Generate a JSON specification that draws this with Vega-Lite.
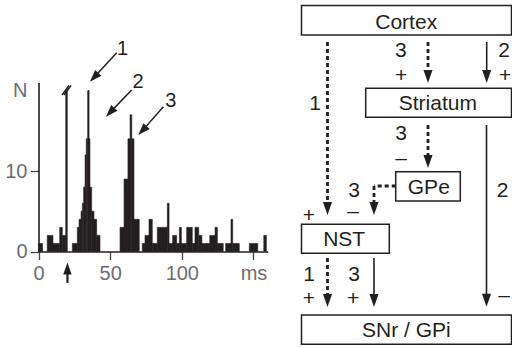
{
  "$schema": "https://vega.github.io/schema/vega-lite/v6.json",
  "width": 512,
  "height": 348,
  "autosize": "none",
  "padding": 0,
  "config": {"view": {"stroke": null}, "font": "Liberation Sans"},
  "datasets": {
    "bins": [
      {"t0": 0, "t1": 2.8, "n": 1},
      {"t0": 6.1, "t1": 10.1, "n": 2},
      {"t0": 10.1, "t1": 14.8, "n": 1},
      {"t0": 14.8, "t1": 16.6, "n": 3},
      {"t0": 16.6, "t1": 19, "n": 2},
      {"t0": 19, "t1": 20.1, "n": 20},
      {"t0": 23.6, "t1": 27.1, "n": 1},
      {"t0": 27.1, "t1": 28.3, "n": 3},
      {"t0": 28.3, "t1": 29.7, "n": 4},
      {"t0": 29.7, "t1": 30.6, "n": 5},
      {"t0": 30.6, "t1": 31.5, "n": 6},
      {"t0": 31.5, "t1": 32.5, "n": 8},
      {"t0": 32.5, "t1": 33.3, "n": 12},
      {"t0": 33.3, "t1": 34.3, "n": 14},
      {"t0": 34.3, "t1": 35.3, "n": 20},
      {"t0": 35.3, "t1": 35.9, "n": 14},
      {"t0": 35.9, "t1": 37.1, "n": 8},
      {"t0": 37.1, "t1": 38.7, "n": 5},
      {"t0": 38.7, "t1": 40.6, "n": 4},
      {"t0": 40.6, "t1": 42.9, "n": 2},
      {"t0": 56.9, "t1": 59.7, "n": 3},
      {"t0": 59.7, "t1": 62.4, "n": 9},
      {"t0": 62.4, "t1": 63.9, "n": 14},
      {"t0": 63.9, "t1": 65.1, "n": 17},
      {"t0": 65.1, "t1": 66.6, "n": 14},
      {"t0": 66.6, "t1": 70.3, "n": 4},
      {"t0": 72.4, "t1": 74.3, "n": 1},
      {"t0": 74.3, "t1": 77.1, "n": 2},
      {"t0": 77.1, "t1": 79.4, "n": 4},
      {"t0": 79.4, "t1": 82.9, "n": 1},
      {"t0": 82.9, "t1": 89.9, "n": 3},
      {"t0": 89.9, "t1": 91.1, "n": 6},
      {"t0": 91.1, "t1": 93.6, "n": 1},
      {"t0": 93.6, "t1": 96.4, "n": 2},
      {"t0": 96.4, "t1": 98.3, "n": 1},
      {"t0": 98.3, "t1": 99.7, "n": 3},
      {"t0": 99.7, "t1": 103.4, "n": 1},
      {"t0": 103.4, "t1": 107.3, "n": 3},
      {"t0": 107.3, "t1": 109.2, "n": 1},
      {"t0": 109.2, "t1": 111.8, "n": 3},
      {"t0": 111.8, "t1": 114, "n": 2},
      {"t0": 114, "t1": 119.5, "n": 1},
      {"t0": 119.5, "t1": 123.2, "n": 2},
      {"t0": 123.2, "t1": 124.8, "n": 3},
      {"t0": 124.8, "t1": 128.9, "n": 1},
      {"t0": 130.6, "t1": 134.3, "n": 1},
      {"t0": 134.3, "t1": 135.5, "n": 4},
      {"t0": 135.5, "t1": 140.1, "n": 1},
      {"t0": 147.1, "t1": 153, "n": 1},
      {"t0": 157.2, "t1": 159, "n": 2}
    ],
    "hlines": [
      {"x": 54.6, "y": 24.7, "x2": 38.8, "y2": 21.64},
      {"x": 65.0, "y": 20.06, "x2": 50.0, "y2": 17.29},
      {"x": 87.1, "y": 17.99, "x2": 72.5, "y2": 15.02},
      {"x": 16.4, "y": 19.44, "x2": 21.3, "y2": 20.62},
      {"x": 17.8, "y": 19.44, "x2": 22.7, "y2": 20.62}
    ],
    "hstim": [
      {"x": 20.2, "y": -3.9, "x2": 20.2, "y2": -2.4}
    ],
    "hheads": [
      {"x": 38.8, "y": 21.64},
      {"x": 50.0, "y": 17.29},
      {"x": 72.5, "y": 15.02}
    ],
    "hup": [{"x": 20.2, "y": -2.1}],
    "hlabels": [
      {"x": 58.6, "y": 24.41, "t": "1"},
      {"x": 69.4, "y": 20.27, "t": "2"},
      {"x": 92.3, "y": 17.91, "t": "3"}
    ],
    "boxes": [
      {"name": "Cortex", "x0": 0.5, "x1": 210.5, "y0": 0.5, "y1": 30, "lx": 105.2, "ly": 24},
      {"name": "Striatum", "x0": 64.7, "x1": 210.5, "y0": 83.3, "y1": 112.3, "lx": 136.8, "ly": 105},
      {"name": "GPe", "x0": 94.7, "x1": 159.3, "y0": 166.7, "y1": 196, "lx": 127.8, "ly": 188.5},
      {"name": "NST", "x0": 0.5, "x1": 88.3, "y0": 219.3, "y1": 248.3, "lx": 43.2, "ly": 241},
      {"name": "SNr / GPi", "x0": 0.5, "x1": 210.5, "y0": 310, "y1": 339.3, "lx": 105.3, "ly": 332}
    ],
    "signs": [
      {"t": "3", "x": 99.8, "y": 51.7},
      {"t": "+", "x": 100, "y": 77},
      {"t": "2", "x": 203.2, "y": 51.7},
      {"t": "+", "x": 204, "y": 77},
      {"t": "1", "x": 14, "y": 105},
      {"t": "3", "x": 100, "y": 135},
      {"t": "–", "x": 100, "y": 159.7},
      {"t": "3", "x": 53.2, "y": 192.3},
      {"t": "–", "x": 52, "y": 213},
      {"t": "+", "x": 7.8, "y": 217},
      {"t": "2", "x": 201.5, "y": 192.3},
      {"t": "1", "x": 8, "y": 275.7},
      {"t": "3", "x": 53, "y": 275.7},
      {"t": "+", "x": 7.8, "y": 299.7},
      {"t": "+", "x": 52, "y": 299.7},
      {"t": "–", "x": 203.2, "y": 297}
    ],
    "dashed": [
      {"x": 26.5, "y": 37, "x2": 26.5, "y2": 204},
      {"x": 127, "y": 37, "x2": 127, "y2": 72},
      {"x": 127, "y": 120, "x2": 127, "y2": 157},
      {"x": 94.7, "y": 181, "x2": 73, "y2": 181},
      {"x": 73, "y": 181, "x2": 73, "y2": 204},
      {"x": 26.5, "y": 253, "x2": 26.5, "y2": 296}
    ],
    "solid": [
      {"x": 185.7, "y": 37, "x2": 185.7, "y2": 72},
      {"x": 185.5, "y": 120, "x2": 185.5, "y2": 296},
      {"x": 73, "y": 253, "x2": 73, "y2": 296}
    ],
    "heads": [
      {"x": 26.5, "y": 203.5},
      {"x": 127, "y": 71.5},
      {"x": 185.7, "y": 71.5},
      {"x": 127, "y": 156.5},
      {"x": 185.5, "y": 295.2},
      {"x": 73, "y": 203.5},
      {"x": 26.5, "y": 295.5},
      {"x": 73, "y": 295.5}
    ]
  },
  "resolve": {"scale": {"x": "independent", "y": "independent"}},
  "layer": [
    {
      "layer": [
        {
          "data": {"name": "bins"},
          "mark": {"type": "rect", "color": "#231f20", "stroke": "#231f20", "strokeWidth": 0.6},
          "encoding": {
            "x": {
              "field": "t0", "type": "quantitative",
              "scale": {"domain": [0, 160], "range": [38.5, 267.8], "nice": false, "zero": false},
              "axis": {
                "title": null, "values": [0, 50, 100, 150],
                "labelExpr": "datum.value == 150 ? 'ms' : datum.label",
                "offset": -96.5, "grid": false,
                "domainColor": "#231f20", "domainWidth": 1.6,
                "tickColor": "#444444", "tickWidth": 1.3, "tickSize": 8,
                "labelFont": "Liberation Sans", "labelFontSize": 20, "labelColor": "#6d6e71",
                "labelPadding": 4, "labelFlush": false, "labelOverlap": false
              }
            },
            "x2": {"field": "t1"},
            "y": {
              "field": "n", "type": "quantitative",
              "scale": {"domain": [0, 21], "range": [251.5, 82.5], "nice": false, "zero": false},
              "axis": {
                "title": null, "values": [0, 10, 20],
                "labelExpr": "datum.value == 20 ? 'N' : datum.label",
                "tickOpacity": {"condition": {"test": "datum.value == 20", "value": 0}, "value": 1},
                "offset": -38.5, "grid": false,
                "domainColor": "#231f20", "domainWidth": 1.6,
                "tickColor": "#444444", "tickWidth": 1.3, "tickSize": 8,
                "labelFont": "Liberation Sans", "labelFontSize": 20, "labelColor": "#6d6e71",
                "labelPadding": 3.5, "labelFlush": false, "labelOverlap": false
              }
            },
            "y2": {"datum": 0}
          }
        },
        {
          "data": {"name": "hlines"},
          "mark": {"type": "rule", "color": "#231f20", "strokeWidth": 1.5},
          "encoding": {
            "x": {"field": "x", "type": "quantitative", "scale": {"domain": [0, 160], "range": [38.5, 267.8], "nice": false, "zero": false}},
            "x2": {"field": "x2"},
            "y": {"field": "y", "type": "quantitative", "scale": {"domain": [0, 21], "range": [251.5, 82.5], "nice": false, "zero": false}},
            "y2": {"field": "y2"}
          }
        },
        {
          "data": {"name": "hstim"},
          "mark": {"type": "rule", "color": "#231f20", "strokeWidth": 2.2},
          "encoding": {
            "x": {"field": "x", "type": "quantitative", "scale": {"domain": [0, 160], "range": [38.5, 267.8], "nice": false, "zero": false}},
            "x2": {"field": "x2"},
            "y": {"field": "y", "type": "quantitative", "scale": {"domain": [0, 21], "range": [251.5, 82.5], "nice": false, "zero": false}},
            "y2": {"field": "y2"}
          }
        },
        {
          "data": {"name": "hheads"},
          "mark": {"type": "point", "shape": "M-0.7,-1L0.7,-1L0,1Z", "filled": true, "size": 150, "angle": 43, "color": "#231f20", "opacity": 1, "strokeWidth": 0},
          "encoding": {
            "x": {"field": "x", "type": "quantitative", "scale": {"domain": [0, 160], "range": [38.5, 267.8], "nice": false, "zero": false}},
            "y": {"field": "y", "type": "quantitative", "scale": {"domain": [0, 21], "range": [251.5, 82.5], "nice": false, "zero": false}}
          }
        },
        {
          "data": {"name": "hup"},
          "mark": {"type": "point", "shape": "M-0.7,-1L0.7,-1L0,1Z", "filled": true, "size": 144, "angle": 180, "color": "#231f20", "opacity": 1, "strokeWidth": 0},
          "encoding": {
            "x": {"field": "x", "type": "quantitative", "scale": {"domain": [0, 160], "range": [38.5, 267.8], "nice": false, "zero": false}},
            "y": {"field": "y", "type": "quantitative", "scale": {"domain": [0, 21], "range": [251.5, 82.5], "nice": false, "zero": false}}
          }
        },
        {
          "data": {"name": "hlabels"},
          "mark": {"type": "text", "font": "Liberation Sans", "fontSize": 20, "color": "#231f20", "align": "center", "baseline": "alphabetic"},
          "encoding": {
            "x": {"field": "x", "type": "quantitative", "scale": {"domain": [0, 160], "range": [38.5, 267.8], "nice": false, "zero": false}},
            "y": {"field": "y", "type": "quantitative", "scale": {"domain": [0, 21], "range": [251.5, 82.5], "nice": false, "zero": false}},
            "text": {"field": "t"}
          }
        }
      ]
    },
    {
      "layer": [
        {
          "data": {"name": "dashed"},
          "mark": {"type": "rule", "color": "#231f20", "strokeWidth": 2.8, "strokeDash": [4, 3]},
          "encoding": {
            "x": {"field": "x", "type": "quantitative", "scale": {"domain": [0, 211], "range": [301, 512], "nice": false, "zero": false}, "axis": null},
            "x2": {"field": "x2"},
            "y": {"field": "y", "type": "quantitative", "scale": {"domain": [0, 340], "range": [5, 345], "nice": false, "zero": false}, "axis": null},
            "y2": {"field": "y2"}
          }
        },
        {
          "data": {"name": "solid"},
          "mark": {"type": "rule", "color": "#231f20", "strokeWidth": 1.6},
          "encoding": {
            "x": {"field": "x", "type": "quantitative", "scale": {"domain": [0, 211], "range": [301, 512], "nice": false, "zero": false}, "axis": null},
            "x2": {"field": "x2"},
            "y": {"field": "y", "type": "quantitative", "scale": {"domain": [0, 340], "range": [5, 345], "nice": false, "zero": false}, "axis": null},
            "y2": {"field": "y2"}
          }
        },
        {
          "data": {"name": "heads"},
          "mark": {"type": "point", "shape": "M-0.7,-1L0.7,-1L0,1Z", "filled": true, "size": 169, "color": "#231f20", "opacity": 1, "strokeWidth": 0},
          "encoding": {
            "x": {"field": "x", "type": "quantitative", "scale": {"domain": [0, 211], "range": [301, 512], "nice": false, "zero": false}, "axis": null},
            "y": {"field": "y", "type": "quantitative", "scale": {"domain": [0, 340], "range": [5, 345], "nice": false, "zero": false}, "axis": null}
          }
        },
        {
          "data": {"name": "boxes"},
          "mark": {"type": "rect", "fill": "white", "stroke": "#231f20", "strokeWidth": 1.5},
          "encoding": {
            "x": {"field": "x0", "type": "quantitative", "scale": {"domain": [0, 211], "range": [301, 512], "nice": false, "zero": false}, "axis": null},
            "x2": {"field": "x1"},
            "y": {"field": "y0", "type": "quantitative", "scale": {"domain": [0, 340], "range": [5, 345], "nice": false, "zero": false}, "axis": null},
            "y2": {"field": "y1"}
          }
        },
        {
          "data": {"name": "boxes"},
          "mark": {"type": "text", "font": "Liberation Sans", "fontSize": 21, "color": "#231f20", "align": "center", "baseline": "alphabetic"},
          "encoding": {
            "x": {"field": "lx", "type": "quantitative", "scale": {"domain": [0, 211], "range": [301, 512], "nice": false, "zero": false}, "axis": null},
            "y": {"field": "ly", "type": "quantitative", "scale": {"domain": [0, 340], "range": [5, 345], "nice": false, "zero": false}, "axis": null},
            "text": {"field": "name"}
          }
        },
        {
          "data": {"name": "signs"},
          "mark": {"type": "text", "font": "Liberation Sans", "fontSize": 21, "color": "#231f20", "align": "center", "baseline": "alphabetic"},
          "encoding": {
            "x": {"field": "x", "type": "quantitative", "scale": {"domain": [0, 211], "range": [301, 512], "nice": false, "zero": false}, "axis": null},
            "y": {"field": "y", "type": "quantitative", "scale": {"domain": [0, 340], "range": [5, 345], "nice": false, "zero": false}, "axis": null},
            "text": {"field": "t"}
          }
        }
      ]
    }
  ]
}
